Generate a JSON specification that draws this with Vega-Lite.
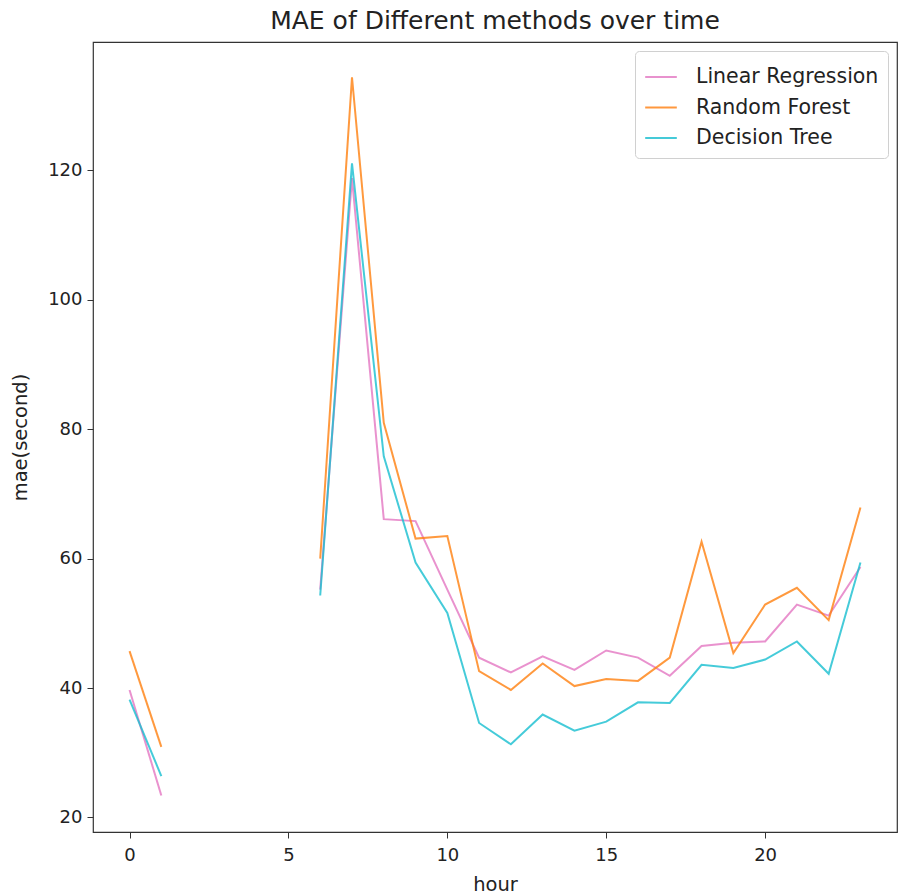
{
  "$schema": "https://vega.github.io/schema/vega-lite/v6.json",
  "width": 804,
  "height": 790,
  "autosize": {"type": "none"},
  "padding": {"left": 93, "top": 42, "right": 2, "bottom": 64},
  "background": "white",
  "config": {
    "font": "DejaVu Sans",
    "view": {"stroke": "#333333", "strokeWidth": 1.2}
  },
  "title": {
    "text": "MAE of Different methods over time",
    "fontSize": 25,
    "fontWeight": "normal",
    "color": "#222222",
    "font": "DejaVu Sans",
    "offset": 8
  },
  "data": {
    "values": [
      {"hour": 0, "seg": "a", "method": "Linear Regression", "mae": 39.7},
      {"hour": 1, "seg": "a", "method": "Linear Regression", "mae": 23.4},
      {"hour": 6, "seg": "b", "method": "Linear Regression", "mae": 55.2},
      {"hour": 7, "seg": "b", "method": "Linear Regression", "mae": 118.8},
      {"hour": 8, "seg": "b", "method": "Linear Regression", "mae": 66.1},
      {"hour": 9, "seg": "b", "method": "Linear Regression", "mae": 65.8},
      {"hour": 10, "seg": "b", "method": "Linear Regression", "mae": 55.2},
      {"hour": 11, "seg": "b", "method": "Linear Regression", "mae": 44.7},
      {"hour": 12, "seg": "b", "method": "Linear Regression", "mae": 42.4},
      {"hour": 13, "seg": "b", "method": "Linear Regression", "mae": 44.9},
      {"hour": 14, "seg": "b", "method": "Linear Regression", "mae": 42.8},
      {"hour": 15, "seg": "b", "method": "Linear Regression", "mae": 45.8},
      {"hour": 16, "seg": "b", "method": "Linear Regression", "mae": 44.7},
      {"hour": 17, "seg": "b", "method": "Linear Regression", "mae": 41.9},
      {"hour": 18, "seg": "b", "method": "Linear Regression", "mae": 46.5},
      {"hour": 19, "seg": "b", "method": "Linear Regression", "mae": 47.0},
      {"hour": 20, "seg": "b", "method": "Linear Regression", "mae": 47.2},
      {"hour": 21, "seg": "b", "method": "Linear Regression", "mae": 52.9},
      {"hour": 22, "seg": "b", "method": "Linear Regression", "mae": 51.2},
      {"hour": 23, "seg": "b", "method": "Linear Regression", "mae": 58.7},
      {"hour": 0, "seg": "a", "method": "Random Forest", "mae": 45.7},
      {"hour": 1, "seg": "a", "method": "Random Forest", "mae": 30.9},
      {"hour": 6, "seg": "b", "method": "Random Forest", "mae": 60.0},
      {"hour": 7, "seg": "b", "method": "Random Forest", "mae": 134.4},
      {"hour": 8, "seg": "b", "method": "Random Forest", "mae": 81.0},
      {"hour": 9, "seg": "b", "method": "Random Forest", "mae": 63.1},
      {"hour": 10, "seg": "b", "method": "Random Forest", "mae": 63.5},
      {"hour": 11, "seg": "b", "method": "Random Forest", "mae": 42.6},
      {"hour": 12, "seg": "b", "method": "Random Forest", "mae": 39.7},
      {"hour": 13, "seg": "b", "method": "Random Forest", "mae": 43.8},
      {"hour": 14, "seg": "b", "method": "Random Forest", "mae": 40.3},
      {"hour": 15, "seg": "b", "method": "Random Forest", "mae": 41.4},
      {"hour": 16, "seg": "b", "method": "Random Forest", "mae": 41.1},
      {"hour": 17, "seg": "b", "method": "Random Forest", "mae": 44.7},
      {"hour": 18, "seg": "b", "method": "Random Forest", "mae": 62.6},
      {"hour": 19, "seg": "b", "method": "Random Forest", "mae": 45.4},
      {"hour": 20, "seg": "b", "method": "Random Forest", "mae": 52.9},
      {"hour": 21, "seg": "b", "method": "Random Forest", "mae": 55.5},
      {"hour": 22, "seg": "b", "method": "Random Forest", "mae": 50.5},
      {"hour": 23, "seg": "b", "method": "Random Forest", "mae": 67.9},
      {"hour": 0, "seg": "a", "method": "Decision Tree", "mae": 38.2},
      {"hour": 1, "seg": "a", "method": "Decision Tree", "mae": 26.4},
      {"hour": 6, "seg": "b", "method": "Decision Tree", "mae": 54.3},
      {"hour": 7, "seg": "b", "method": "Decision Tree", "mae": 121.1},
      {"hour": 8, "seg": "b", "method": "Decision Tree", "mae": 75.8},
      {"hour": 9, "seg": "b", "method": "Decision Tree", "mae": 59.4},
      {"hour": 10, "seg": "b", "method": "Decision Tree", "mae": 51.6},
      {"hour": 11, "seg": "b", "method": "Decision Tree", "mae": 34.6},
      {"hour": 12, "seg": "b", "method": "Decision Tree", "mae": 31.3},
      {"hour": 13, "seg": "b", "method": "Decision Tree", "mae": 35.9},
      {"hour": 14, "seg": "b", "method": "Decision Tree", "mae": 33.4},
      {"hour": 15, "seg": "b", "method": "Decision Tree", "mae": 34.8},
      {"hour": 16, "seg": "b", "method": "Decision Tree", "mae": 37.8},
      {"hour": 17, "seg": "b", "method": "Decision Tree", "mae": 37.7},
      {"hour": 18, "seg": "b", "method": "Decision Tree", "mae": 43.6},
      {"hour": 19, "seg": "b", "method": "Decision Tree", "mae": 43.1},
      {"hour": 20, "seg": "b", "method": "Decision Tree", "mae": 44.4},
      {"hour": 21, "seg": "b", "method": "Decision Tree", "mae": 47.2},
      {"hour": 22, "seg": "b", "method": "Decision Tree", "mae": 42.2},
      {"hour": 23, "seg": "b", "method": "Decision Tree", "mae": 59.4}
    ]
  },
  "mark": {"type": "line", "strokeWidth": 2, "opacity": 0.8},
  "encoding": {
    "x": {
      "field": "hour",
      "type": "quantitative",
      "scale": {"domain": [-1.15, 24.15], "nice": false, "zero": false},
      "axis": {
        "values": [0, 5, 10, 15, 20],
        "grid": false,
        "title": "hour",
        "titleFontSize": 19.5,
        "titleFontWeight": "normal",
        "titleColor": "#222222",
        "titlePadding": 11,
        "labelFontSize": 18,
        "labelColor": "#222222",
        "labelPadding": 8,
        "tickSize": 6,
        "tickColor": "#333333",
        "domain": false
      }
    },
    "y": {
      "field": "mae",
      "type": "quantitative",
      "scale": {"domain": [17.75, 139.85], "nice": false, "zero": false},
      "axis": {
        "values": [20, 40, 60, 80, 100, 120],
        "grid": false,
        "title": "mae(second)",
        "titleFontSize": 19.5,
        "titleFontWeight": "normal",
        "titleColor": "#222222",
        "titlePadding": 17,
        "labelFontSize": 18,
        "labelColor": "#222222",
        "labelPadding": 5,
        "tickSize": 6,
        "tickColor": "#333333",
        "domain": false
      }
    },
    "color": {
      "field": "method",
      "type": "nominal",
      "scale": {
        "domain": ["Linear Regression", "Random Forest", "Decision Tree"],
        "range": ["#e377c2", "#ff7f0e", "#17becf"]
      },
      "legend": {
        "title": null,
        "orient": "top-right",
        "offset": 9,
        "symbolType": "stroke",
        "symbolSize": 1000,
        "symbolStrokeWidth": 2,
        "symbolOpacity": 0.8,
        "labelFontSize": 20.5,
        "labelLimit": 400,
        "labelColor": "#222222",
        "labelOffset": 18,
        "rowPadding": 2.5,
        "padding": 9,
        "strokeColor": "#d0d0d0",
        "cornerRadius": 4,
        "fillColor": "white"
      }
    },
    "detail": {"field": "seg", "type": "nominal"}
  }
}
